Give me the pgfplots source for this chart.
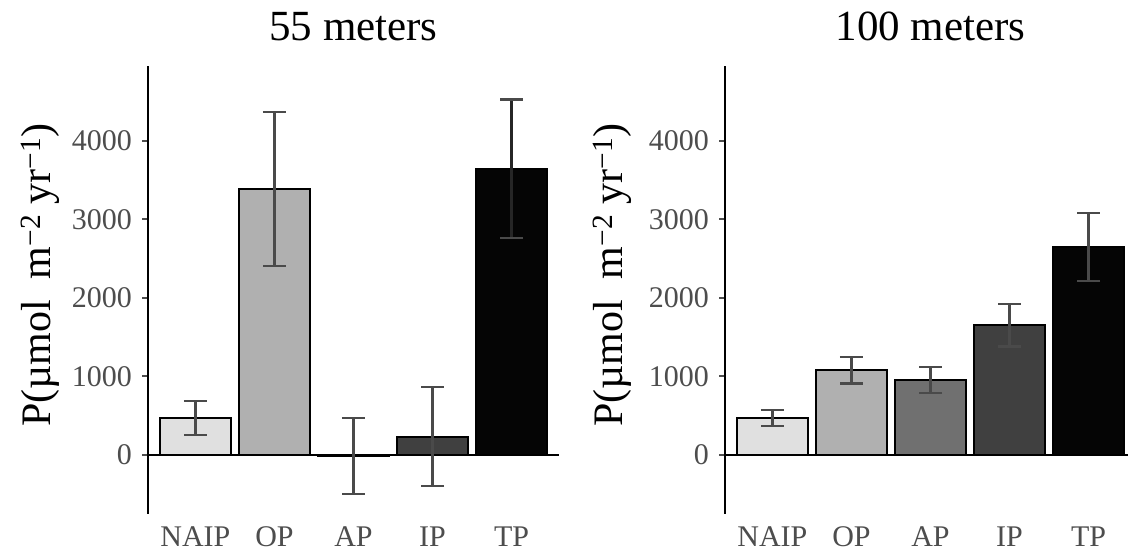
\documentclass[border=0pt]{standalone}
\usepackage{fontspec}
\setmainfont{Liberation Serif}
\usepackage{pgfplots}
\pgfplotsset{compat=1.18}
\definecolor{c1}{HTML}{E0E0E0}
\definecolor{c2}{HTML}{B0B0B0}
\definecolor{c3}{HTML}{707070}
\definecolor{c4}{HTML}{404040}
\definecolor{c5}{HTML}{050505}
\definecolor{tk}{HTML}{4D4D4D}
\definecolor{eb}{HTML}{4A4A4A}
\pgfplotsset{
  panel/.style={
    scale only axis, width=411pt, height=448pt,
    xmin=0.4, xmax=5.6, ymin=-752, ymax=4955,
    axis x line*=bottom, axis y line*=left,
    x axis line style={draw=none},
    y axis line style={line width=2pt, black, -},
    xtick={1,2,3,4,5}, xticklabels={NAIP,OP,AP,IP,TP},
    ytick={0,1000,2000,3000,4000},
    scaled y ticks=false,
    /pgf/number format/1000 sep={},
    /pgf/number format/assume math mode=true,
    tick align=outside,
    major tick length=6pt,
    x tick style={draw=none},
    y tick style={line width=2pt, tk},
    ticklabel style={font=\fontsize{30}{30}\selectfont, text=tk},
    xticklabel style={inner sep=0pt, anchor=base, yshift=-27pt},
    yticklabel style={inner sep=0pt, anchor=east, xshift=-10pt},
    title style={at={(0.5,1)}, anchor=base, yshift=19pt, font=\fontsize{43}{43}\selectfont},
    ylabel={P(µmol\ \ m\textsuperscript{−2}\ yr\textsuperscript{−1})},
    ylabel style={anchor=base, font=\fontsize{42}{42}\selectfont},
    clip=false,
  },
  bar/.style={ybar, bar shift=0pt, bar width=0.9, draw=black, line width=1.8pt,
    error bars/y dir=both, error bars/y explicit,
    error bars/error bar style={line width=2.2pt, draw=eb},
    error bars/error mark options={rotate=90, mark size=11.5pt, line width=2.2pt, draw=eb}},
}
\begin{document}
\begin{tikzpicture}
\useasboundingbox (0,0) rectangle (1128pt,556pt);
% 55 meters
\begin{axis}[panel, at={(148pt,42pt)}, anchor=south west, title={55 meters},
  ylabel style={at={(axis description cs:-0.2384,0.533)}}]
\draw[line width=2pt, black] (axis cs:0.4,0) -- (axis cs:5.6,0);
\addplot[bar, fill=c1] coordinates {(1,467) +- (0,216)};
\addplot[bar, fill=c2] coordinates {(2,3389) +- (0,979)};
\addplot[bar, fill=c3] coordinates {(3,-15) +- (0,482)};
\addplot[bar, fill=c4] coordinates {(4,233) +- (0,633)};
\addplot[bar, fill=c5, error bars/error bar style={draw=black!85}] coordinates {(5,3645) +- (0,884)};
\end{axis}
% 100 meters
\begin{axis}[panel, at={(725pt,42pt)}, anchor=south west, title={100 meters},
  ylabel style={at={(axis description cs:-0.2506,0.533)}}]
\draw[line width=2pt, black] (axis cs:0.4,0) -- (axis cs:5.6,0);
\addplot[bar, fill=c1] coordinates {(1,467) +- (0,102)};
\addplot[bar, fill=c2] coordinates {(2,1079) +- (0,168)};
\addplot[bar, fill=c3] coordinates {(3,951) +- (0,166)};
\addplot[bar, fill=c4] coordinates {(4,1652) +- (0,270)};
\addplot[bar, fill=c5] coordinates {(5,2650) +- (0,430)};
\end{axis}
\end{tikzpicture}
\end{document}
